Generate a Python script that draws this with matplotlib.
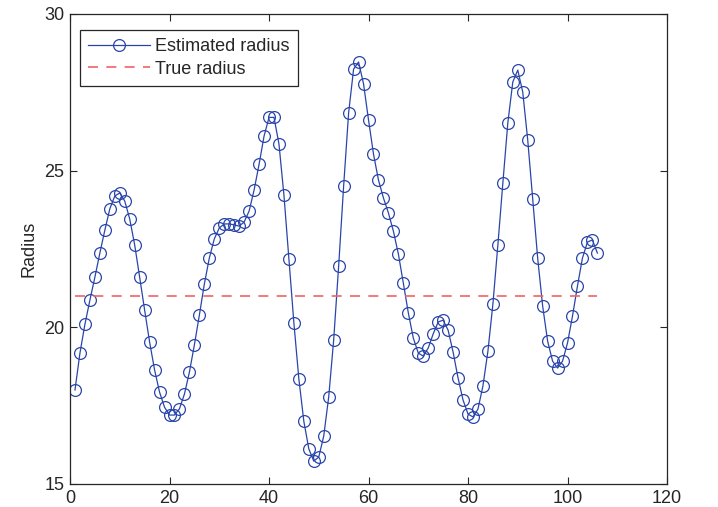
import matplotlib
matplotlib.use('Agg')
import matplotlib.pyplot as plt

steps = list(range(1, 107))
radius = [
    18.0, 19.18, 20.1, 20.87, 21.6, 22.37, 23.1, 23.78, 24.19, 24.29,
    24.03, 23.46, 22.63, 21.6, 20.55, 19.53, 18.64, 17.93, 17.45, 17.2,
    17.2, 17.4, 17.87, 18.57, 19.44, 20.39, 21.38, 22.21, 22.82, 23.17,
    23.3, 23.3, 23.27, 23.23, 23.36, 23.71, 24.38, 25.2, 26.1, 26.7,
    26.7, 25.85, 24.22, 22.18, 20.14, 18.35, 17.0, 16.12, 15.73, 15.86,
    16.53, 17.78, 19.6, 21.96, 24.51, 26.84, 28.24, 28.47, 27.77, 26.62,
    25.53, 24.7, 24.13, 23.65, 23.07, 22.34, 21.41, 20.46, 19.66, 19.18,
    19.08, 19.34, 19.79, 20.17, 20.23, 19.91, 19.21, 18.38, 17.68, 17.23,
    17.14, 17.39, 18.13, 19.24, 20.74, 22.63, 24.6, 26.52, 27.83, 28.21,
    27.51, 25.98, 24.1, 22.21, 20.68, 19.56, 18.92, 18.7, 18.92, 19.5,
    20.36, 21.32, 22.21, 22.72, 22.79, 22.37,
]
true_radius = 21.0

dark = '#262626'
plt.rcParams['font.family'] = ['Liberation Sans', 'DejaVu Sans']
plt.rcParams['font.size'] = 13
plt.rcParams['text.color'] = dark
plt.rcParams['axes.labelcolor'] = dark
plt.rcParams['xtick.color'] = dark
plt.rcParams['ytick.color'] = dark

fig = plt.figure(figsize=(7.18, 5.07), dpi=100)
ax = fig.add_axes([0.0975, 0.0454, 0.8315, 0.927])

ax.plot(steps, radius, '-o', color='#2a45aa', linewidth=0.9,
        markersize=8.5, markerfacecolor='none', markeredgewidth=0.9,
        label='Estimated radius')
ax.plot([steps[0], steps[-1]], [true_radius, true_radius], '--',
        color='#f06464', linewidth=1.2, dashes=(6, 5), label='True radius')

ax.set_xlim(0, 120)
ax.set_ylim(15, 30)
ax.set_xticks(range(0, 121, 20))
ax.set_yticks([15, 20, 25, 30])
ax.tick_params(direction='in', length=5, top=True, right=True, labelsize=13,
               pad=4)
for s in ax.spines.values():
    s.set_color(dark)
    s.set_linewidth(0.9)
ax.set_ylabel('Radius', fontsize=13, labelpad=5)

leg = ax.legend(loc='upper left', bbox_to_anchor=(10 / 597, 1 - 16 / 470),
                borderaxespad=0, fancybox=False, edgecolor=dark,
                framealpha=1, fontsize=13, handlelength=3.4,
                borderpad=0.45, labelspacing=0.3, handletextpad=0.3)
leg.get_frame().set_linewidth(0.9)

fig.savefig('out.png', dpi=100)
